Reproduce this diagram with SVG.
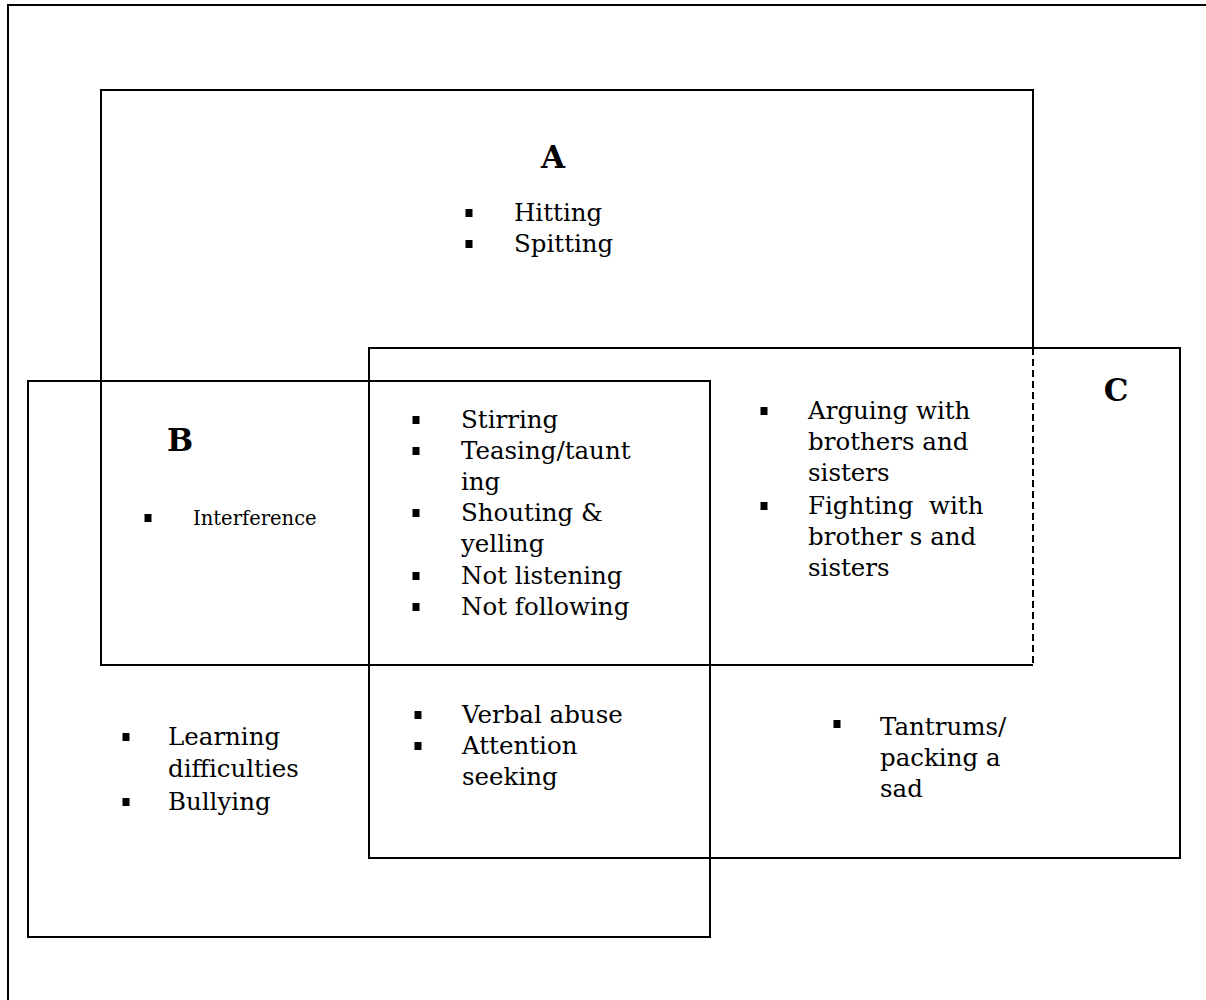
<svg xmlns="http://www.w3.org/2000/svg" width="1206" height="1000" viewBox="0 0 1206 1000">
<style>
.ln{fill:none;stroke:#000;stroke-width:2}
.dash{fill:none;stroke:#000;stroke-width:2;stroke-dasharray:7,4}
.t{font-family:"DejaVu Serif","Liberation Serif",serif;font-size:24.5px;fill:#000}
.s{font-family:"DejaVu Serif","Liberation Serif",serif;font-size:19.5px;fill:#000}
.lbl{font-family:"DejaVu Serif","Liberation Serif",serif;font-size:31px;font-weight:bold;fill:#000}
</style>
<defs>
<rect id="bul" x="-3.5" y="-4" width="7" height="8" fill="#000"/>
</defs>
<rect width="1206" height="1000" fill="#fff"/>
<g id="frame">
<path class="ln" d="M8,1000 V5 H1206"/>
</g>
<g id="connectors">
<path class="ln" d="M1033,348 V90 H101 V665 H1033"/>
<line class="dash" x1="1033" y1="348" x2="1033" y2="665"/>
<rect class="ln" x="28" y="381" width="682" height="556"/>
<rect class="ln" x="369" y="348" width="811" height="510"/>
</g>
<g id="node-A">
<text class="lbl" x="553" y="168" text-anchor="middle">A</text>
<use href="#bul" x="469" y="213"/>
<text class="t" x="514" y="221">Hitting</text>
<use href="#bul" x="469" y="244"/>
<text class="t" x="514" y="252">Spitting</text>
</g>
<g id="node-B">
<text class="lbl" x="180" y="451" text-anchor="middle">B</text>
<use href="#bul" x="148" y="518"/>
<text class="s" x="193" y="525">Interference</text>
</g>
<g id="node-C">
<text class="lbl" x="1116" y="401" text-anchor="middle">C</text>
</g>
<g id="node-ABC">
<use href="#bul" x="416" y="420"/>
<text class="t" x="461" y="428">Stirring</text>
<use href="#bul" x="416" y="451"/>
<text class="t" x="461" y="459">Teasing/taunt</text>
<text class="t" x="461" y="490">ing</text>
<use href="#bul" x="416" y="513"/>
<text class="t" x="461" y="521">Shouting &amp;</text>
<text class="t" x="461" y="552">yelling</text>
<use href="#bul" x="416" y="576"/>
<text class="t" x="461" y="584">Not listening</text>
<use href="#bul" x="416" y="607"/>
<text class="t" x="461" y="615">Not following</text>
</g>
<g id="node-AC">
<use href="#bul" x="764" y="411"/>
<text class="t" x="808" y="419">Arguing with</text>
<text class="t" x="808" y="450">brothers and</text>
<text class="t" x="808" y="481">sisters</text>
<use href="#bul" x="764" y="506"/>
<text class="t" x="808" y="514">Fighting&#160; with</text>
<text class="t" x="808" y="545">brother s and</text>
<text class="t" x="808" y="576">sisters</text>
</g>
<g id="node-Bonly">
<use href="#bul" x="126" y="737"/>
<text class="t" x="168" y="745">Learning</text>
<text class="t" x="168" y="777">difficulties</text>
<use href="#bul" x="126" y="802"/>
<text class="t" x="168" y="810">Bullying</text>
</g>
<g id="node-BC">
<use href="#bul" x="418" y="715"/>
<text class="t" x="462" y="723">Verbal abuse</text>
<use href="#bul" x="418" y="746"/>
<text class="t" x="462" y="754">Attention</text>
<text class="t" x="462" y="785">seeking</text>
</g>
<g id="node-Conly">
<use href="#bul" x="837" y="724"/>
<text class="t" x="880" y="735">Tantrums/</text>
<text class="t" x="880" y="766">packing a</text>
<text class="t" x="880" y="797">sad</text>
</g>
</svg>
